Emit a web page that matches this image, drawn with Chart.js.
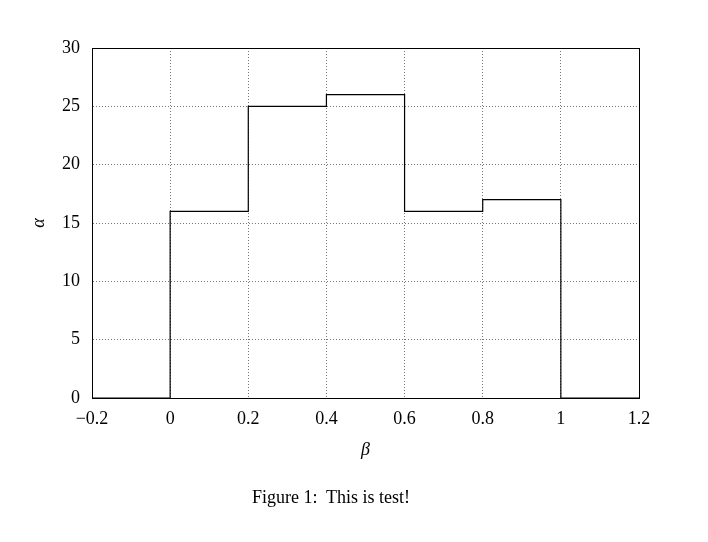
<!DOCTYPE html>
<html lang="en">
<head>
    <meta charset="UTF-8">
    <title>Step histogram</title>
    <style>
        body {
            margin: 0;
            background: #fff;
        }
        #wrap {
            position: relative;
            width: 708px;
            height: 542px;
        }
        #caption {
            position: absolute;
            left: 0;
            width: 662px;
            top: 487px;
            text-align: center;
            font-family: "Liberation Serif", serif;
            font-size: 18px;
            color: #000;
        }
    </style>
</head>
<body>
    <div id="wrap">
        <canvas id="myChart" width="708" height="542"></canvas>
        <div id="caption">Figure 1:&nbsp; This is test!</div>
    </div>
    <script src="https://cdn.jsdelivr.net/npm/chart.js@4/dist/chart.umd.min.js"></script>
    <script>
        // bin edges and the height of the bin starting at each edge
        const binEdges = [-0.2, 0, 0.2, 0.4, 0.6, 0.8, 1.0, 1.2];
        const binCounts = [0, 16, 25, 26, 16, 17, 0, 0];
        const xTicks = [-0.2, 0, 0.2, 0.4, 0.6, 0.8, 1.0, 1.2];
        const yTicks = [0, 5, 10, 15, 20, 25, 30];

        const points = binEdges.map((x, i) => ({ x: x, y: binCounts[i] }));
        const font = { family: "'Liberation Serif', serif", size: 18 };
        const titleFont = { family: "'Liberation Serif', serif", size: 18, style: 'italic' };

        function fmt(v) {
            let s = String(Math.round(v * 10) / 10);
            return s.replace('-', '\u2212');
        }

        // frame around the plot area
        const frame = {
            id: 'frame',
            afterDraw(chart) {
                const a = chart.chartArea;
                const ctx = chart.ctx;
                ctx.save();
                ctx.strokeStyle = '#000';
                ctx.lineWidth = 1;
                ctx.strokeRect(a.left + 0.5, a.top + 0.5, a.right - a.left, a.bottom - a.top);
                ctx.restore();
            }
        };

        let ctx = document.getElementById('myChart').getContext('2d');
        let chart = new Chart(ctx, {
            type: 'line',
            data: {
                datasets: [{
                    data: points,
                    stepped: true,
                    borderColor: '#000',
                    borderWidth: 1.2,
                    pointRadius: 0,
                    fill: false
                }]
            },
            options: {
                responsive: false,
                animation: false,
                layout: { padding: { left: 0, right: 69, top: 48, bottom: 77 } },
                plugins: {
                    legend: { display: false },
                    tooltip: { enabled: false }
                },
                scales: {
                    x: {
                        type: 'linear',
                        min: -0.2,
                        max: 1.2,
                        afterBuildTicks: (s) => { s.ticks = xTicks.map(v => ({ value: v })); },
                        afterFit: (s) => { s.height = 67; },
                        ticks: {
                            color: '#000',
                            font: font,
                            padding: 10,
                            maxRotation: 0,
                            callback: (v) => fmt(v)
                        },
                        grid: {
                            color: '#777',
                            drawTicks: false
                        },
                        border: { color: '#000', dash: [1, 2] },
                        title: {
                            display: true,
                            text: '\u03b2',
                            color: '#000',
                            font: titleFont,
                            padding: { top: 4, bottom: 4 }
                        }
                    },
                    y: {
                        min: 0,
                        max: 30,
                        afterBuildTicks: (s) => { s.ticks = yTicks.map(v => ({ value: v })); },
                        afterFit: (s) => { s.width = 92; },
                        ticks: {
                            color: '#000',
                            font: font,
                            padding: 12,
                            callback: (v) => fmt(v)
                        },
                        grid: {
                            color: '#777',
                            drawTicks: false
                        },
                        border: { color: '#000', dash: [1, 2] },
                        title: {
                            display: true,
                            text: '\u03b1',
                            color: '#000',
                            font: titleFont,
                            padding: { top: 28, bottom: 0 }
                        }
                    }
                }
            },
            plugins: [frame]
        });
    </script>
</body>
</html>
